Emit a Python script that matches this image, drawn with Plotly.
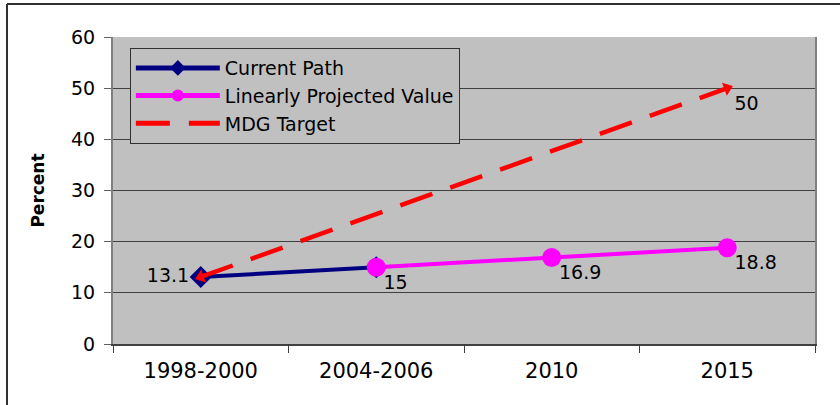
import plotly.graph_objects as go

# ---- data ----
periods = ['1998-2000', '2004-2006', '2010', '2015']
current_path = [13.1, 15, None, None]
projected = [None, 15, 16.9, 18.8]
mdg_target = [13.1, None, None, 50]

# data labels (value text shown next to points)
label_values = [None, 15, 16.9, 50, 18.8]
label_periods = ['1998-2000', '2004-2006', '2010', '2015', '2015']
label_text = ['', '15', '16.9', '50', '18.8']

FONT = 'DejaVu Sans, Arial, sans-serif'
PLOT_BG = '#C0C0C0'
GRID_C = '#404040'

fig = go.Figure()

fig.add_trace(go.Scatter(
    x=periods, y=current_path, name='Current Path',
    mode='lines+markers+text',
    line=dict(color='#000080', width=4),
    marker=dict(symbol='diamond', size=17, color='#000080'),
    text=['13.1', '', '', ''], textposition='middle left',
    textfont=dict(size=19, color='black', family=FONT),
))

fig.add_trace(go.Scatter(
    x=periods, y=projected, name='Linearly Projected Value',
    mode='lines+markers',
    line=dict(color='#FF00FF', width=4),
    marker=dict(symbol='circle', size=19, color='#FF00FF'),
))

fig.add_trace(go.Scatter(
    x=periods, y=mdg_target, name='MDG Target',
    mode='lines', connectgaps=True,
    line=dict(color='#FF0000', width=4.5, dash='34px,19px'),
))

# arrow heads at both ends of the target line (not shown in legend)
fig.add_trace(go.Scatter(
    x=periods, y=mdg_target, mode='markers', showlegend=False,
    hoverinfo='skip',
    marker=dict(symbol='triangle-up', size=12, color='#FF0000',
                angle=[250, 0, 0, 70]),
))

# value labels, offset below-right of the points
fig.add_trace(go.Scatter(
    x=label_periods, y=label_values, mode='markers+text', showlegend=False,
    hoverinfo='skip',
    marker=dict(size=10, color='rgba(0,0,0,0)'),
    text=label_text, textposition='bottom right',
    textfont=dict(size=19, color='black', family=FONT),
))

# outer chart border (top and left edges)
fig.add_shape(type='line', xref='paper', yref='paper',
              x0=-0.151, x1=1.1, y0=1.1075, y1=1.1075,
              line=dict(color='#303030', width=2))
fig.add_shape(type='line', xref='paper', yref='paper',
              x0=-0.151, x1=-0.151, y0=1.1075, y1=-0.25,
              line=dict(color='#303030', width=2))

fig.update_layout(
    width=840, height=405,
    paper_bgcolor='white', plot_bgcolor=PLOT_BG,
    margin=dict(l=113, r=25, t=37, b=61),
    font=dict(family=FONT, color='black', size=19),
    showlegend=True,
    legend=dict(
        x=0.024, y=0.964, xanchor='left', yanchor='top',
        bgcolor=PLOT_BG, bordercolor='#303030', borderwidth=1,
        font=dict(size=19, family=FONT, color='black'),
        itemwidth=84, tracegroupgap=0, itemsizing='constant',
    ),
)

fig.update_xaxes(
    type='category', range=[-0.5, 3.5], tickson='boundaries',
    ticks='outside', ticklen=7, tickcolor='#404040',
    showgrid=False, showline=True, linecolor='#404040', linewidth=2,
    tickfont=dict(size=21, family=FONT), ticklabelstandoff=7,
    zeroline=False,
)
fig.update_yaxes(
    range=[0, 60], dtick=10,
    ticks='outside', ticklen=7, tickcolor='#606060',
    showgrid=True, gridcolor=GRID_C, gridwidth=1,
    showline=True, linecolor='#808080', linewidth=2, mirror=True,
    tickfont=dict(size=19, family=FONT), zeroline=False,
    ticklabelstandoff=5,
    title=dict(text='<b>Percent</b>', font=dict(size=17, family=FONT), standoff=22),
)

fig.write_html('out.html', config={'displayModeBar': False},
               post_script="document.body.style.margin='0';")
